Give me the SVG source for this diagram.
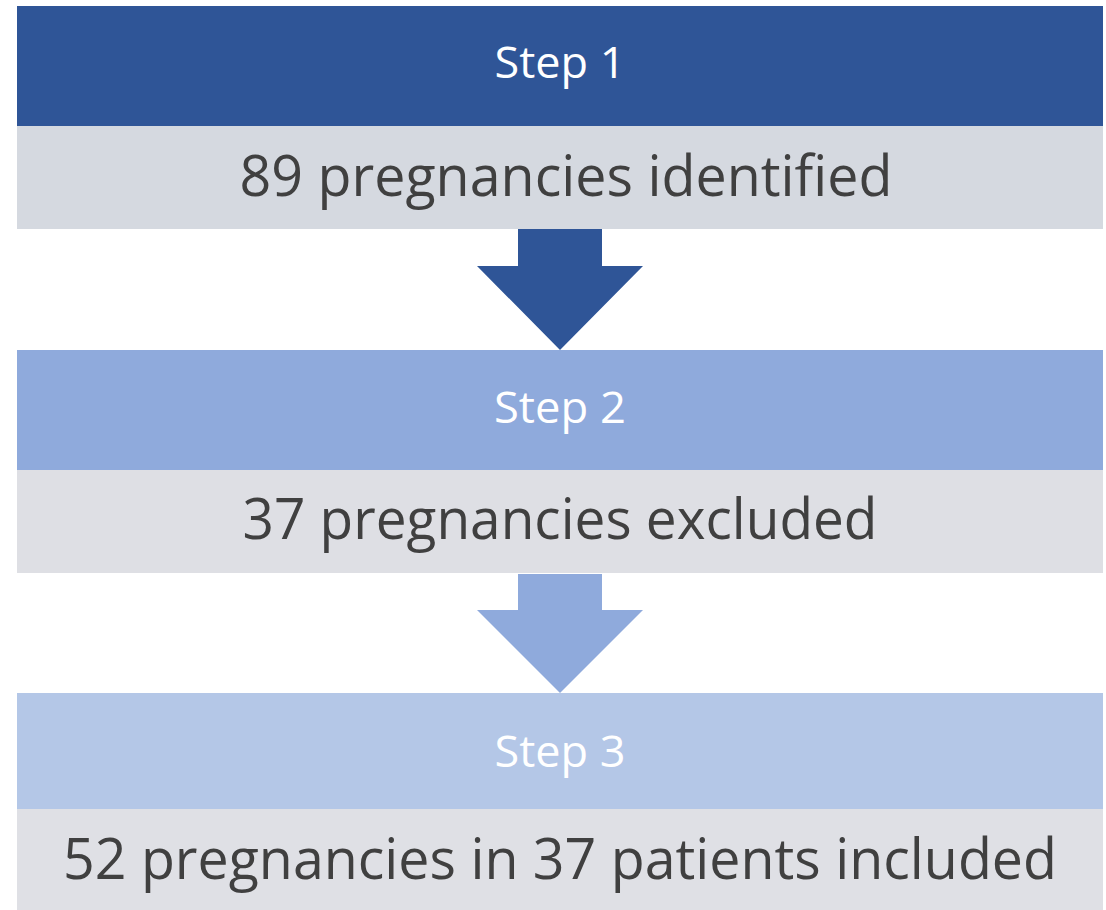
<svg xmlns="http://www.w3.org/2000/svg" width="1106" height="910" viewBox="0 0 1106 910">
<style>
.step{font-family:"Open Sans","Noto Sans",sans-serif;font-size:44px;fill:#ffffff;text-anchor:middle}
.body{font-family:"Open Sans","Noto Sans",sans-serif;font-size:57px;fill:#404040;text-anchor:middle}
</style>
<rect width="1106" height="910" fill="#ffffff"/>
<g id="step1">
<rect x="17" y="6" width="1086" height="120" fill="#2F5597"/>
<text class="step" x="560" y="78" textLength="131" lengthAdjust="spacingAndGlyphs">Step 1</text>
</g>
<g id="box1">
<rect x="17" y="126" width="1086" height="103" fill="#D5D9E0"/>
<text class="body" x="566" y="196" textLength="653" lengthAdjust="spacingAndGlyphs">89 pregnancies identified</text>
</g>
<g id="step2">
<rect x="17" y="350" width="1086" height="120" fill="#8FAADC"/>
<text class="step" x="560" y="423" textLength="132" lengthAdjust="spacingAndGlyphs">Step 2</text>
</g>
<g id="box2">
<rect x="17" y="470" width="1086" height="103" fill="#DEDFE4"/>
<text class="body" x="560" y="539" textLength="635" lengthAdjust="spacingAndGlyphs">37 pregnancies excluded</text>
</g>
<g id="step3">
<rect x="17" y="693" width="1086" height="116" fill="#B4C7E7"/>
<text class="step" x="560" y="767" textLength="131" lengthAdjust="spacingAndGlyphs">Step 3</text>
</g>
<g id="box3">
<rect x="17" y="809" width="1086" height="101" fill="#DFE0E5"/>
<text class="body" x="560" y="879" textLength="994" lengthAdjust="spacingAndGlyphs">52 pregnancies in 37 patients included</text>
</g>
<g id="connectors">
<polygon points="518,229 602,229 602,266 643,266 560,350 477,266 518,266" fill="#2F5597"/>
<polygon points="518,574 602,574 602,610 643,610 560,693 477,610 518,610" fill="#8FAADC"/>
</g>
</svg>
